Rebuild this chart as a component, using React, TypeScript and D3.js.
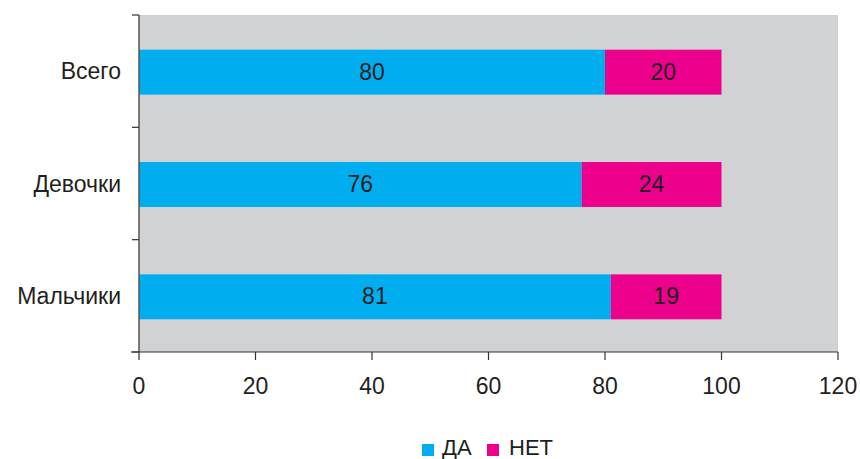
import React from "react";
import * as d3 from "d3";

const categories = ["Всего", "Девочки", "Мальчики"];
const yesValues = [80, 76, 81];
const noValues = [20, 24, 19];
const xTicks = [0, 20, 40, 60, 80, 100, 120];
const seriesNames = ["ДА", "НЕТ"];
const colors = ["#00AEEF", "#EC008C"];

export default function App() {
  const W = 860, H = 459;
  const left = 139, right = 838, top = 15, bottom = 352;
  const x = d3.scaleLinear().domain([0, 120]).range([left, right]);
  const y = d3.scaleBand().domain(categories).range([top, bottom]).paddingInner(0.6).paddingOuter(0.3);
  const yb = d3.scaleBand().domain(categories).range([top, bottom]);
  const font = "'Liberation Sans', Arial, sans-serif";
  const txt = "#231F20";
  const fs = 23;
  return (
    <svg width={W} height={H} style={{ position: "absolute", left: 0, top: 0 }} fontFamily={font}>
      <rect x={0} y={0} width={W} height={H} fill="#fff" />
      <rect x={left} y={top} width={right - left} height={bottom - top} fill="#D1D2D4" />
      {categories.map((c, i) => (
        <g key={c}>
          <rect x={x(0)} y={y(c)! + 1} width={x(yesValues[i]) - x(0)} height={y.bandwidth()} fill={colors[0]} />
          <rect x={x(yesValues[i])} y={y(c)! + 1} width={x(yesValues[i] + noValues[i]) - x(yesValues[i])} height={y.bandwidth()} fill={colors[1]} />
          <text x={(x(0) + x(yesValues[i])) / 2} y={y(c)! + 1 + y.bandwidth() / 2 + 7.5} textAnchor="middle" fontSize={fs} fill={txt}>{yesValues[i]}</text>
          <text x={(x(yesValues[i]) + x(yesValues[i] + noValues[i])) / 2} y={y(c)! + 1 + y.bandwidth() / 2 + 7.5} textAnchor="middle" fontSize={fs} fill={txt}>{noValues[i]}</text>
          <text x={121} y={yb(c)! + yb.bandwidth() / 2 + 8} textAnchor="end" fontSize={fs} fill={txt}>{c}</text>
        </g>
      ))}
      {/* y axis */}
      <line x1={left} x2={left} y1={top} y2={bottom} stroke="#555" strokeWidth={1.5} />
      {[...categories.map((c) => yb(c)!), bottom].map((v, i) => (
        <line key={i} x1={left - 7} x2={left} y1={v} y2={v} stroke="#333" strokeWidth={1.2} />
      ))}
      {/* x axis */}
      <line x1={left - 8} x2={right} y1={bottom} y2={bottom} stroke="#333" strokeWidth={1.2} />
      {xTicks.map((t) => (
        <g key={t}>
          <line x1={x(t)} x2={x(t)} y1={bottom} y2={bottom + 8} stroke="#333" strokeWidth={1.2} />
          <text x={x(t)} y={bottom + 42} textAnchor="middle" fontSize={fs} fill={txt}>{t}</text>
        </g>
      ))}
      {/* legend */}
      <rect x={422} y={444} width={12} height={12} fill={colors[0]} />
      <text x={442} y={455} fontSize={22} fill={txt}>{seriesNames[0]}</text>
      <rect x={487} y={444} width={12} height={12} fill={colors[1]} />
      <text x={509} y={455} fontSize={22} fill={txt}>{seriesNames[1]}</text>
    </svg>
  );
}
